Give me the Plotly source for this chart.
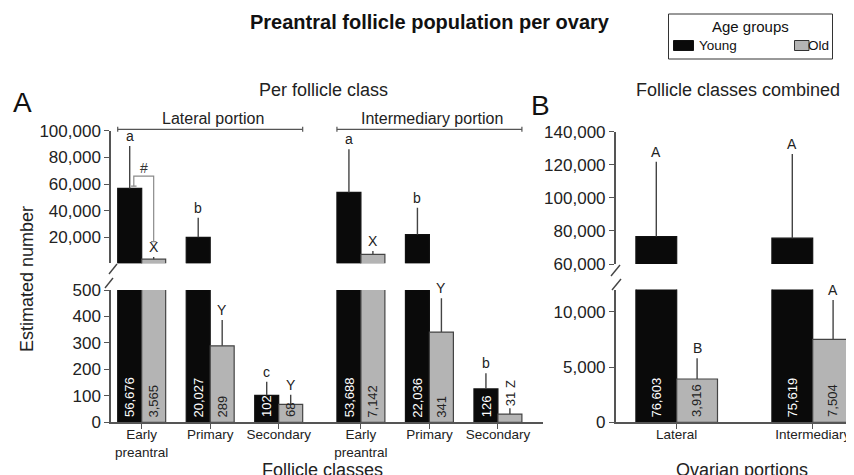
import plotly.graph_objects as go

# ---------------- data ----------------
classes = ["Early<br>preantral", "Primary", "Secondary"]
portions = ["Lateral", "Intermediary"]
age_groups = ["Young", "Old"]

# Panel A: per follicle class (lateral portion classes, then intermediary portion classes)
young_A = [56676, 20027, 102, 53688, 22036, 126]
young_A_sd = [31800, 14700, 51, 32300, 20200, 59]
old_A = [3565, 289, 68, 7142, 341, 31]
old_A_sd = [1700, 98, 36, 2500, 128, 22]
young_A_letters = ["a", "b", "c", "a", "b", "b"]
old_A_letters = ["X", "Y", "Y", "X", "Y", "Z"]

# Panel B: follicle classes combined
young_B = [76603, 75619]
young_B_sd = [45300, 50900]
old_B = [3916, 7504]
old_B_sd = [1870, 3550]
young_B_letters = ["A", "A"]
old_B_letters = ["B", "A"]

A_ticks_top = [20000, 40000, 60000, 80000, 100000]
A_ticks_bottom = [0, 100, 200, 300, 400, 500]
B_ticks_top = [60000, 80000, 100000, 120000, 140000]
B_ticks_bottom = [0, 5000, 10000]

# ---------------- layout helpers ----------------
OFF = 8                     # page offset of the plot inside the browser window
W, H = 854 - OFF, 475 - OFF  # figure size so that it fits the window exactly
FONT = "Liberation Sans, Arial, Helvetica, sans-serif"
YOUNG_C, OLD_C = "#0a0a0a", "#b4b4b4"
YOUNG_EDGE, OLD_EDGE = "#111111", "#444444"
AXC = "#555555"
TXT = "#222222"


def px(x):
    return (x - OFF) / W


def py(y):
    return 1 - (y - OFF) / H


posA = [g * 3.2 + i for g in range(2) for i in range(3)]
posB = [0, 1]
bwA, bwB = 0.35, 0.30

# axis domains (paper) and ranges
A_xdom = [px(111), px(543)]
A_xrng = [-0.448, 5.858]
A_bot_dom = [py(422.3), py(290)]
A_bot_rng = [0, 500]
A_top_dom = [py(263.3), py(130.7)]
A_top_rng = [500, 100000]
B_xdom = [px(615.7), px(854)]
B_xrng = [-0.4485, 1.3037]
B_bot_dom = [py(422.3), py(289.6)]
B_bot_rng = [0, 12000]
B_top_dom = [py(264), py(131.7)]
B_top_rng = [60000, 140000]

fig = go.Figure()


def add_bars(pos, vals, sds, width, side, color, edge, xa, ya, name, vmin=None):
    if vmin is not None:  # upper part of the broken axis: only bars reaching it
        vals = [v if v > vmin else None for v in vals]
    fig.add_trace(go.Bar(
        x=pos, y=vals, width=[width] * len(pos), offset=-width if side == 0 else 0,
        name=name, legendgroup=name, showlegend=False,
        marker=dict(color=color, line=dict(color=edge, width=1.2)),
        error_y=dict(type="data", symmetric=False, array=sds, arrayminus=[0] * len(sds),
                     color="#444444", thickness=1.4, width=0),
        xaxis=xa, yaxis=ya, hoverinfo="skip", cliponaxis=True))


# Panel A bottom (x, y) and top (x2, y2)
add_bars(posA, young_A, young_A_sd, bwA, 0, YOUNG_C, YOUNG_EDGE, "x", "y", age_groups[0])
add_bars(posA, old_A, old_A_sd, bwA, 1, OLD_C, OLD_EDGE, "x", "y", age_groups[1])
add_bars(posA, young_A, young_A_sd, bwA, 0, YOUNG_C, YOUNG_EDGE, "x2", "y2", age_groups[0], A_top_rng[0])
add_bars(posA, old_A, old_A_sd, bwA, 1, OLD_C, OLD_EDGE, "x2", "y2", age_groups[1], A_top_rng[0])
# Panel B bottom (x3, y3) and top (x4, y4)
add_bars(posB, young_B, young_B_sd, bwB, 0, YOUNG_C, YOUNG_EDGE, "x3", "y3", age_groups[0])
add_bars(posB, old_B, old_B_sd, bwB, 1, OLD_C, OLD_EDGE, "x3", "y3", age_groups[1])
add_bars(posB, young_B, young_B_sd, bwB, 0, YOUNG_C, YOUNG_EDGE, "x4", "y4", age_groups[0], B_top_rng[0])
add_bars(posB, old_B, old_B_sd, bwB, 1, OLD_C, OLD_EDGE, "x4", "y4", age_groups[1], B_top_rng[0])

ann = []


def label_bars(pos, width, vals, sds, letters, side, bot_ax, top_ax, bot_rng, bot_dom, text_color):
    scale = (bot_dom[1] - bot_dom[0]) * H / (bot_rng[1] - bot_rng[0])
    for p, v, sd, let in zip(pos, vals, sds, letters):
        xc = p - width / 2 if side == 0 else p + width / 2
        txt = f"{v:,}"
        bar_px = min(v, bot_rng[1]) * scale
        tip = v + sd
        if bar_px >= 7.3 * len(txt) + 3:
            ann.append(dict(x=xc, y=0, xref=bot_ax[0], yref=bot_ax[1], text=txt, textangle=-90,
                            showarrow=False, yanchor="bottom", yshift=3,
                            font=dict(size=13, color=text_color)))
            lref = top_ax if tip > bot_rng[1] else bot_ax
            ann.append(dict(x=xc, y=tip, xref=lref[0], yref=lref[1], text=let, showarrow=False,
                            yanchor="bottom", yshift=0, font=dict(size=14, color=TXT)))
        else:
            # value does not fit inside the bar: written above it, together with its letter
            ann.append(dict(x=xc, y=tip, xref=bot_ax[0], yref=bot_ax[1], text=f"{txt} {let}",
                            textangle=-90, showarrow=False, yanchor="bottom", yshift=0,
                            font=dict(size=13, color=TXT)))


label_bars(posA, bwA, young_A, young_A_sd, young_A_letters, 0, ("x", "y"), ("x2", "y2"),
           A_bot_rng, A_bot_dom, "white")
label_bars(posA, bwA, old_A, old_A_sd, old_A_letters, 1, ("x", "y"), ("x2", "y2"),
           A_bot_rng, A_bot_dom, TXT)
label_bars(posB, bwB, young_B, young_B_sd, young_B_letters, 0, ("x3", "y3"), ("x4", "y4"),
           B_bot_rng, B_bot_dom, "white")
label_bars(posB, bwB, old_B, old_B_sd, old_B_letters, 1, ("x3", "y3"), ("x4", "y4"),
           B_bot_rng, B_bot_dom, TXT)

shapes = []
# portion brackets over panel A
portion_names = ["Lateral portion", "Intermediary portion"]
yb = py(129.3)
for g in range(2):
    x0 = posA[3 * g] - bwA
    x1 = posA[3 * g + 2] + bwA
    shapes.append(dict(type="line", xref="x", yref="paper", x0=x0, x1=x1, y0=yb, y1=yb,
                       line=dict(color=AXC, width=1.2)))
    for xe in (x0, x1):
        shapes.append(dict(type="line", xref="x", yref="paper", x0=xe, x1=xe,
                           y0=yb - 2.5 / H, y1=yb + 2.5 / H, line=dict(color=AXC, width=1.2)))
    ann.append(dict(x=(x0 + x1) / 2, y=py(118), xref="x", yref="paper", text=portion_names[g],
                    showarrow=False, xshift=3, yanchor="middle", font=dict(size=16, color=TXT)))

# "#" comparison bracket between young and old early preantral (lateral)
bx_l = posA[0] - bwA / 2 + 0.06
bx_r = posA[0] + bwA / 2
by_h = young_A[0] + 9300
by_l = young_A[0] + 1700
by_r = old_A[0] + old_A_sd[0] + 11500
BRC = "#8a8a8a"
shapes += [
    dict(type="path", xref="x2", yref="y2",
         path=f"M{bx_l},{by_l} L{bx_l},{by_h} L{bx_r},{by_h} L{bx_r},{by_r}",
         line=dict(color=BRC, width=1.2)),
    dict(type="line", xref="x2", yref="y2", x0=bx_l - 0.04, x1=bx_l + 0.04, y0=by_l, y1=by_l,
         line=dict(color=BRC, width=1.2)),
    dict(type="line", xref="x2", yref="y2", x0=bx_r - 0.04, x1=bx_r + 0.04, y0=by_r, y1=by_r,
         line=dict(color=BRC, width=1.2)),
]
ann.append(dict(x=(bx_l + bx_r) / 2, y=by_h, xref="x2", yref="y2", text="#", showarrow=False,
                yanchor="bottom", yshift=-2, font=dict(size=14, color="#333333")))

# axis-break marks
for (xa0, ya0, xa1, ya1) in [(109, 274, 117, 264), (105, 288, 113, 278),
                             (611, 276, 620, 265), (612, 290, 621, 279)]:
    shapes.append(dict(type="line", xref="paper", yref="paper", x0=px(xa0), y0=py(ya0),
                       x1=px(xa1), y1=py(ya1), line=dict(color="#444444", width=1.4)))

# legend box (Age groups)
shapes += [
    dict(type="rect", xref="paper", yref="paper", x0=px(668.5), x1=px(832.5), y0=py(59), y1=py(14),
         line=dict(color="#333333", width=1), fillcolor="white"),
    dict(type="rect", xref="paper", yref="paper", x0=px(673.5), x1=px(693.5), y0=py(50.5), y1=py(40.5),
         line=dict(color="#111111", width=1), fillcolor=YOUNG_C),
    dict(type="rect", xref="paper", yref="paper", x0=px(794.5), x1=px(809), y0=py(50.5), y1=py(40.5),
         line=dict(color="#333333", width=1), fillcolor=OLD_C),
]
ann += [
    dict(x=px(750.5), y=py(27), text="Age groups", xanchor="center", font=dict(size=15, color="#111111")),
    dict(x=px(696.5), y=py(45.5), text=age_groups[0], xanchor="left", font=dict(size=13.5, color="#111111")),
    dict(x=px(831), y=py(45.5), text=age_groups[1], xanchor="right", font=dict(size=13.5, color="#111111")),
]
for a in ann[-3:]:
    a.update(xref="paper", yref="paper", showarrow=False, yanchor="middle")

# panel texts
ann += [
    dict(x=px(22), y=py(103), text="A", font=dict(size=28, color="#111111")),
    dict(x=px(540), y=py(105), text="B", font=dict(size=28, color="#111111")),
    dict(x=px(323), y=py(90), text="Per follicle class", font=dict(size=18, color=TXT)),
    dict(x=px(738), y=py(90), text="Follicle classes combined", font=dict(size=18, color=TXT)),
    dict(x=px(27), y=py(279), text="Estimated number", textangle=-90, font=dict(size=18, color=TXT)),
    dict(x=px(322.5), y=py(470), text="Follicle classes", font=dict(size=18, color=TXT)),
    dict(x=px(741.7), y=py(470), text="Ovarian portions", font=dict(size=18, color=TXT)),
    dict(x=px(429.5), y=py(22), text="<b>Preantral follicle population per ovary</b>",
         font=dict(size=20, color="#111111")),
]
for a in ann[-8:]:
    a.update(xref="paper", yref="paper", showarrow=False, xanchor="center", yanchor="middle")


def yax(dom, rng, ticks, anchor):
    return dict(domain=dom, range=rng, anchor=anchor, tickvals=ticks, tickformat=",d",
                showline=True, linecolor=AXC, linewidth=1.5, ticks="outside", ticklen=5,
                tickcolor=AXC, tickwidth=1.4, showgrid=False, zeroline=False,
                tickfont=dict(size=17, color=TXT), fixedrange=True)


def xax(dom, rng, vals, text, anchor):
    return dict(domain=dom, range=rng, anchor=anchor, tickvals=vals, ticktext=text,
                showline=True, linecolor=AXC, linewidth=1.5, ticks="outside", ticklen=5,
                tickcolor=AXC, tickwidth=1.4, showgrid=False, zeroline=False,
                ticklabelstandoff=-6,
                tickfont=dict(size=13.5, color=TXT), fixedrange=True)


fig.update_layout(
    width=W, height=H, margin=dict(l=0, r=0, t=0, b=0, autoexpand=False),
    paper_bgcolor="white", plot_bgcolor="white",
    font=dict(family=FONT, color=TXT),
    barmode="overlay", showlegend=False,
    xaxis=xax(A_xdom, A_xrng, posA, classes * 2, "y"),
    yaxis=yax(A_bot_dom, A_bot_rng, A_ticks_bottom, "x"),
    xaxis2=dict(domain=A_xdom, range=A_xrng, matches="x", anchor="y2", visible=False),
    yaxis2=yax(A_top_dom, A_top_rng, A_ticks_top, "x2"),
    xaxis3=xax(B_xdom, B_xrng, posB, portions, "y3"),
    yaxis3=yax(B_bot_dom, B_bot_rng, B_ticks_bottom, "x3"),
    xaxis4=dict(domain=B_xdom, range=B_xrng, matches="x3", anchor="y4", visible=False),
    yaxis4=yax(B_top_dom, B_top_rng, B_ticks_top, "x4"),
    annotations=ann, shapes=shapes,
)

fig.write_html("out.html")
